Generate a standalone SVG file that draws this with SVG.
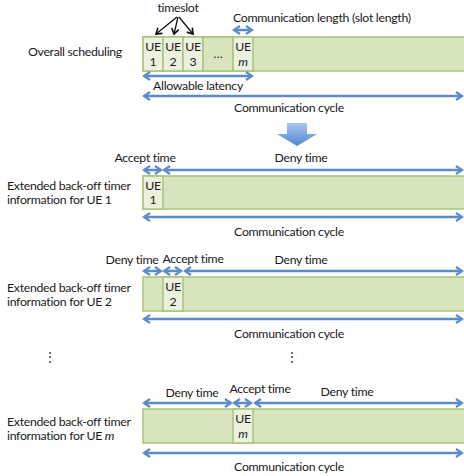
<svg xmlns="http://www.w3.org/2000/svg" width="464" height="476" viewBox="0 0 464 476">
<defs>
<style>
text{font-family:Lato,"Liberation Sans",sans-serif;font-size:12.3px;letter-spacing:-0.3px;fill:#1a1a1a}
.bar{fill:#d7e4bd;stroke:#a8c47c;stroke-width:1.5}
.cell{fill:#ebf1de;stroke:#a8c47c;stroke-width:1.5}
.dots{fill:#d7e4bd;stroke:#a8c47c;stroke-width:1.5}
.ba{stroke:#5b8cc8;stroke-width:2.5;fill:none}
.k{stroke:#111;stroke-width:1.3;fill:none}
.m{text-anchor:middle}
</style>
<marker id="ah" markerWidth="10" markerHeight="12" refX="7" refY="5" orient="auto-start-reverse" markerUnits="userSpaceOnUse" viewBox="0 0 10 10">
<path d="M1,1 L7,5 L1,9" fill="none" stroke="#5b8cc8" stroke-width="2.2"/>
</marker>
<marker id="kh" markerWidth="9" markerHeight="9" refX="7" refY="5" orient="auto" markerUnits="userSpaceOnUse" viewBox="0 0 10 10">
<path d="M1,1 L7,5 L1,9" fill="none" stroke="#111" stroke-width="1.8"/>
</marker>
<linearGradient id="dg" x1="0" y1="0" x2="0" y2="1">
<stop offset="0" stop-color="#a9c8f0"/>
<stop offset="1" stop-color="#4f86cf"/>
</linearGradient>
</defs>

<g id="overall">
<text x="75" y="56" class="m">Overall scheduling</text>
<rect class="bar" x="143" y="37" width="330" height="34"/>
<rect class="cell" x="143" y="37" width="20" height="34"/>
<rect class="cell" x="163" y="37" width="20" height="34"/>
<rect class="cell" x="183" y="37" width="20" height="34"/>
<rect class="dots" x="203" y="37" width="30" height="34"/>
<rect class="cell" x="233" y="37" width="20" height="34"/>
<text x="153" y="51" class="m">UE</text><text x="153" y="66" class="m">1</text>
<text x="173" y="51" class="m">UE</text><text x="173" y="66" class="m">2</text>
<text x="193" y="51" class="m">UE</text><text x="193" y="66" class="m">3</text>
<text x="218" y="58" class="m">…</text>
<text x="243" y="51" class="m">UE</text><text x="243" y="66" class="m" font-style="italic">m</text>
<text x="178" y="12" class="m">timeslot</text>
<text x="233" y="22">Communication length (slot length)</text>
<text x="198" y="90" class="m">Allowable latency</text>
<text x="289" y="112" class="m">Communication cycle</text>
</g>

<g id="down-arrow">
<polygon points="287,123 307,123 307,134 317,134 297,146 277,134 287,134" fill="url(#dg)"/>
</g>

<g id="ue1">
<text x="7" y="190">Extended back-off timer</text>
<text x="7" y="204">information for UE 1</text>
<rect class="bar" x="143" y="176" width="330" height="33"/>
<rect class="cell" x="143" y="176" width="20" height="33"/>
<text x="153" y="190" class="m">UE</text><text x="153" y="204" class="m">1</text>
<text x="145" y="162" class="m">Accept time</text>
<text x="301" y="162" class="m">Deny time</text>
<text x="289" y="236" class="m">Communication cycle</text>
</g>

<g id="ue2">
<text x="7" y="292">Extended back-off timer</text>
<text x="7" y="306">information for UE 2</text>
<rect class="bar" x="143" y="277" width="330" height="34"/>
<rect class="cell" x="163" y="277" width="20" height="34"/>
<text x="173" y="291" class="m">UE</text><text x="173" y="306" class="m">2</text>
<text x="132" y="264" class="m">Deny time</text>
<text x="193" y="263" class="m">Accept time</text>
<text x="301" y="264" class="m">Deny time</text>
<text x="289" y="338" class="m">Communication cycle</text>
<text x="50" y="361" class="m">⋮</text>
<text x="292" y="361" class="m">⋮</text>
</g>

<g id="uem">
<text x="7" y="426">Extended back-off timer</text>
<text x="7" y="440">information for UE <tspan font-style="italic">m</tspan></text>
<rect class="bar" x="143" y="409" width="330" height="34"/>
<rect class="cell" x="233" y="409" width="20" height="34"/>
<text x="243" y="423" class="m">UE</text><text x="243" y="438" class="m" font-style="italic">m</text>
<text x="192" y="397" class="m">Deny time</text>
<text x="260" y="393" class="m">Accept time</text>
<text x="347" y="396" class="m">Deny time</text>
<text x="289" y="471" class="m">Communication cycle</text>
</g>

<g id="connectors">
<path class="k" d="M177,17 L156,34" marker-end="url(#kh)"/>
<path class="k" d="M178,17 L174,34" marker-end="url(#kh)"/>
<path class="k" d="M179,17 L193,34" marker-end="url(#kh)"/>
<path class="ba" d="M234,30 L252,30" marker-start="url(#ah)" marker-end="url(#ah)"/>
<path class="ba" d="M144,76 L252,76" marker-start="url(#ah)" marker-end="url(#ah)"/>
<path class="ba" d="M144,96 L462,96" marker-start="url(#ah)" marker-end="url(#ah)"/>

<path class="ba" d="M144,170 L161,170" marker-start="url(#ah)" marker-end="url(#ah)"/>
<path class="ba" d="M164,170 L462,170" marker-start="url(#ah)" marker-end="url(#ah)"/>
<path class="ba" d="M144,217 L462,217" marker-start="url(#ah)" marker-end="url(#ah)"/>

<path class="ba" d="M144,271 L161,271" marker-start="url(#ah)" marker-end="url(#ah)"/>
<path class="ba" d="M164,271 L181,271" marker-start="url(#ah)" marker-end="url(#ah)"/>
<path class="ba" d="M185,271 L462,271" marker-start="url(#ah)" marker-end="url(#ah)"/>
<path class="ba" d="M144,319 L462,319" marker-start="url(#ah)" marker-end="url(#ah)"/>

<path class="ba" d="M144,403 L231,403" marker-start="url(#ah)" marker-end="url(#ah)"/>
<path class="ba" d="M234,403 L251,403" marker-start="url(#ah)" marker-end="url(#ah)"/>
<path class="ba" d="M255,403 L462,403" marker-start="url(#ah)" marker-end="url(#ah)"/>
<path class="ba" d="M144,453 L462,453" marker-start="url(#ah)" marker-end="url(#ah)"/>
</g>
</svg>
